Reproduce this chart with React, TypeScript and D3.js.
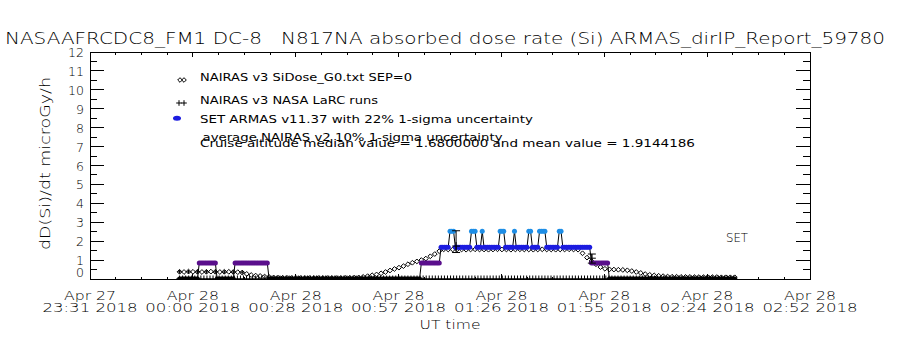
import React from 'react';
import * as d3 from 'd3';

// ---------- text content ----------
const titleText = 'NASAAFRCDC8_FM1 DC-8   N817NA absorbed dose rate (Si) ARMAS_dirIP_Report_59780';
const yAxisTitle = 'dD(Si)/dt microGy/h';
const xAxisTitle = 'UT time';
const yTicks = [0, 1, 2, 3, 4, 5, 6, 7, 8, 9, 10, 11, 12];
const xTickDateLabels = ['Apr 27', 'Apr 28', 'Apr 28', 'Apr 28', 'Apr 28', 'Apr 28', 'Apr 28', 'Apr 28'];
const xTickTimeLabels = ['23:31 2018', '00:00 2018', '00:28 2018', '00:57 2018', '01:26 2018', '01:55 2018', '02:24 2018', '02:52 2018'];
const axisSpanMinutes = 201; // minutes from 23:31 to 02:52
const legendLabels = [
  'NAIRAS v3 SiDose_G0.txt SEP=0',
  'NAIRAS v3 NASA LaRC runs',
  'SET ARMAS v11.37 with 22% 1-sigma uncertainty',
  'average NAIRAS v2 10% 1-sigma uncertainty',
];
const statsLabel = 'Cruise altitude median value = 1.6800000 and mean value = 1.9144186';
const instrumentLabel = 'SET';

// ---------- data (minutes since 23:31 UT) ----------
// NAIRAS v3 SiDose (open diamonds), regular cadence
const nairasStart = 25;
const nairasStep = 1.25;
const nairasValues = [
  0.38, 0.37, 0.39, 0.38, 0.38, 0.37, 0.38, 0.39, 0.38, 0.37, 0.38, 0.38, 0.37, 0.36, 0.34,
  0.27, 0.21, 0.18, 0.16, 0.13, 0.1, 0.08, 0.07,
  0.06, 0.06, 0.05, 0.05, 0.05, 0.05, 0.05, 0.05, 0.05, 0.05, 0.05, 0.05, 0.05, 0.05, 0.06, 0.06,
  0.07, 0.08, 0.11, 0.15, 0.2, 0.24, 0.3, 0.37, 0.45, 0.53, 0.6, 0.68, 0.78, 0.86, 0.93, 1.0,
  1.08, 1.2, 1.32, 1.47, 1.57,
  1.56, 1.56, 1.57, 1.56, 1.55, 1.56, 1.57, 1.56, 1.56, 1.55, 1.56, 1.57, 1.56, 1.56, 1.55,
  1.56, 1.57, 1.56, 1.56, 1.55, 1.56, 1.57, 1.56, 1.56, 1.55, 1.56, 1.56, 1.57, 1.56, 1.55,
  1.36, 1.13, 0.95, 0.78, 0.63, 0.54, 0.51, 0.5, 0.49, 0.48, 0.46, 0.42, 0.37, 0.32, 0.26,
  0.22, 0.19, 0.17, 0.15, 0.13,
  0.12, 0.12, 0.11, 0.11, 0.11, 0.1, 0.1, 0.1, 0.1, 0.1, 0.1, 0.09, 0.09, 0.09, 0.09,
];

// NAIRAS v3 LaRC runs (+)
const larcEarlyTimes = [25, 27.5, 30, 32.5, 35, 37.5, 40, 42.5];
const larcEarlyValues = [0.38, 0.38, 0.38, 0.38, 0.38, 0.37, 0.37, 0.36];
const larcStart = 25;
const larcStep = 0.85;
const larcRuns: [number, number][] = [[0, 183]]; // [value, count]

// average NAIRAS v2 with 1-sigma bars
const nv2Times = [102.2, 140.1];
const nv2Values = [1.74, 1.1];
const nv2Low = [1.4, 0.84];
const nv2High = [2.55, 1.32];

// SET ARMAS (quantized dose-rate levels), 0.5-min cadence, run-length [level, count]
const armasStart = 25;
const armasStep = 0.5;
const armasLevels = [0, 0.84, 1.68, 2.52];
const armasColors = ['#000000', '#5a0f8c', '#1c1ce0', '#1e8ee6'];
const armasRuns: [number, number][] = [
  [0, 11], [1, 10], [0, 10], [1, 19], [0, 85], [1, 11], [2, 5], [3, 3], [2, 9], [3, 3], [2, 3], [3, 1],
  [2, 9], [3, 3], [2, 5], [3, 1], [2, 7], [3, 2], [2, 4], [3, 4], [2, 7], [3, 2], [2, 16], [1, 10], [0, 71],
];

// ---------- layout ----------
const W = 900, H = 350;
const L = 90, R = 810, TOP = 52, BOT = 279;
const FONT = "'DejaVu Sans', 'Liberation Sans', Arial, sans-serif";

function Txt(props: any) {
  const { x, y, size, len, anchor = 'start', children, transform, weight = 200 } = props;
  return (
    <text
      x={x}
      y={y}
      fontSize={size}
      fontFamily={FONT}
      fontWeight={weight}
      textAnchor={anchor}
      textLength={len}
      lengthAdjust="spacingAndGlyphs"
      transform={transform}
      fill="#000"
      style={{ whiteSpace: 'pre' }}
    >
      {children}
    </text>
  );
}

const diamond = (s: number) => `M0,${-s}L${s},0L0,${s}L${-s},0Z`;
const plus = (s: number) => `M${-s},0H${s}M0,${-s}V${s}`;

export default function App() {
  const x = d3.scaleLinear().domain([0, axisSpanMinutes]).range([L, R]);
  const y = d3.scaleLinear().domain([0, 12]).range([BOT, TOP]);

  const majorX = d3.range(8).map((i) => (i * axisSpanMinutes) / 7);
  const minorX = d3.range(29).map((i) => (i * axisSpanMinutes) / 28);
  const minorY = d3.range(0, 12.01, 0.5);

  const nairas = nairasValues.map((v, i) => ({ t: nairasStart + i * nairasStep, v }));

  const larc: { t: number; v: number }[] = [];
  let li = 0;
  larcRuns.forEach(([v, n]) => {
    for (let k = 0; k < n; k++) {
      larc.push({ t: larcStart + li * larcStep, v });
      li++;
    }
  });

  const armas: { t: number; lvl: number }[] = [];
  let ai = 0;
  armasRuns.forEach(([lvl, n]) => {
    for (let k = 0; k < n; k++) {
      armas.push({ t: armasStart + ai * armasStep, lvl });
      ai++;
    }
  });
  const armasLine = d3
    .line<{ t: number; lvl: number }>()
    .x((d) => x(d.t))
    .y((d) => y(armasLevels[d.lvl]))(armas);

  return (
    <svg width={W} height={H} style={{ position: 'absolute', left: 0, top: 0, background: '#fff' }}>
      <rect x={0} y={0} width={W} height={H} fill="#fff" />
      <defs>
        <clipPath id="plotClip">
          <rect x={L} y={TOP} width={R - L} height={BOT - TOP + 0.5} />
        </clipPath>
      </defs>

      {/* title */}
      <Txt x={5} y={43.5} size={15.5} len={880}>{titleText}</Txt>

      {/* data */}
      <g clipPath="url(#plotClip)">
        {nairas.map((d, i) => (
          <path key={'n' + i} d={diamond(2.4)} transform={`translate(${x(d.t)},${y(d.v)})`} fill="none" stroke="#000" strokeWidth={1} />
        ))}
        {larcEarlyTimes.map((t, i) => (
          <path key={'le' + i} d={plus(2)} transform={`translate(${x(t)},${y(larcEarlyValues[i])})`} stroke="#000" strokeWidth={1} fill="none" />
        ))}
        {larc.map((d, i) => (
          <path key={'l' + i} d={plus(3.5)} transform={`translate(${x(d.t)},${y(d.v)})`} stroke="#000" strokeWidth={1} fill="none" />
        ))}
        <path d={armasLine || ''} fill="none" stroke="#000" strokeWidth={1} />
        {armas.map((d, i) => (
          <circle key={'a' + i} cx={x(d.t)} cy={y(armasLevels[d.lvl])} r={2.5} fill={armasColors[d.lvl]} />
        ))}
        {nv2Times.map((t, i) => {
          const cx = x(t);
          return (
            <g key={'e' + i} stroke="#000" strokeWidth={1} fill="none">
              <line x1={cx} x2={cx} y1={y(nv2Low[i])} y2={y(nv2High[i])} />
              <line x1={cx - 4} x2={cx + 4} y1={y(nv2Low[i])} y2={y(nv2Low[i])} />
              <line x1={cx - 4} x2={cx + 4} y1={y(nv2High[i])} y2={y(nv2High[i])} />
              <path d={plus(4)} transform={`translate(${cx},${y(nv2Values[i])})`} />
            </g>
          );
        })}
      </g>

      {/* axes box */}
      <g stroke="#000" strokeWidth={1} shapeRendering="crispEdges" fill="none">
        <rect x={L} y={TOP} width={R - L} height={BOT - TOP} />
        {minorX.map((t, i) => {
          const len = i % 4 === 0 ? 5 : 2.5;
          return (
            <g key={'xt' + i}>
              <line x1={x(t)} x2={x(t)} y1={BOT} y2={BOT - len} />
              <line x1={x(t)} x2={x(t)} y1={TOP} y2={TOP + len} />
            </g>
          );
        })}
        {minorY.map((v, i) => {
          const len = i % 2 === 0 ? 14 : 7;
          return (
            <g key={'yt' + i}>
              <line x1={L} x2={L + len} y1={y(v)} y2={y(v)} />
              <line x1={R} x2={R - len} y1={y(v)} y2={y(v)} />
            </g>
          );
        })}
      </g>

      {/* y tick labels */}
      {yTicks.map((v) => (
        <Txt key={'yl' + v} x={84} y={Math.min(y(v) + 5, BOT - 2.5)} size={12.5} anchor="end">
          {String(v)}
        </Txt>
      ))}

      {/* x tick labels */}
      {majorX.map((t, i) => (
        <g key={'xl' + i}>
          <Txt x={x(t)} y={300} size={12} len={52} anchor="middle">{xTickDateLabels[i]}</Txt>
          <Txt x={x(t)} y={311.5} size={12} len={95} anchor="middle">{xTickTimeLabels[i]}</Txt>
        </g>
      ))}

      {/* axis titles */}
      <Txt x={(L + R) / 2} y={328.5} size={12.5} len={61} anchor="middle">{xAxisTitle}</Txt>
      <Txt x={0} y={0} size={13.5} len={173} anchor="middle" transform={`translate(50,163.5) rotate(-90)`}>
        {yAxisTitle}
      </Txt>

      {/* legend */}
      <path d={diamond(2.3)} transform="translate(180,80)" fill="none" stroke="#000" />
      <path d={diamond(2.3)} transform="translate(184,80)" fill="none" stroke="#000" />
      <Txt x={200} y={81} size={10.5} len={212} weight={400}>{legendLabels[0]}</Txt>
      <path d={plus(2.8)} transform="translate(179,103)" fill="none" stroke="#000" />
      <path d={plus(2.8)} transform="translate(184,103)" fill="none" stroke="#000" />
      <Txt x={200} y={104.3} size={10.5} len={178} weight={400}>{legendLabels[1]}</Txt>
      <ellipse cx={177} cy={118.3} rx={4} ry={2.5} fill={armasColors[2]} />
      <Txt x={200} y={123.3} size={10.5} len={333} weight={400}>{legendLabels[2]}</Txt>
      <Txt x={202.5} y={141} size={10.5} len={300} weight={400}>{legendLabels[3]}</Txt>
      <Txt x={200} y={146.7} size={10.5} len={495} weight={400}>{statsLabel}</Txt>

      <Txt x={726} y={241.7} size={12} len={22}>{instrumentLabel}</Txt>
    </svg>
  );
}
